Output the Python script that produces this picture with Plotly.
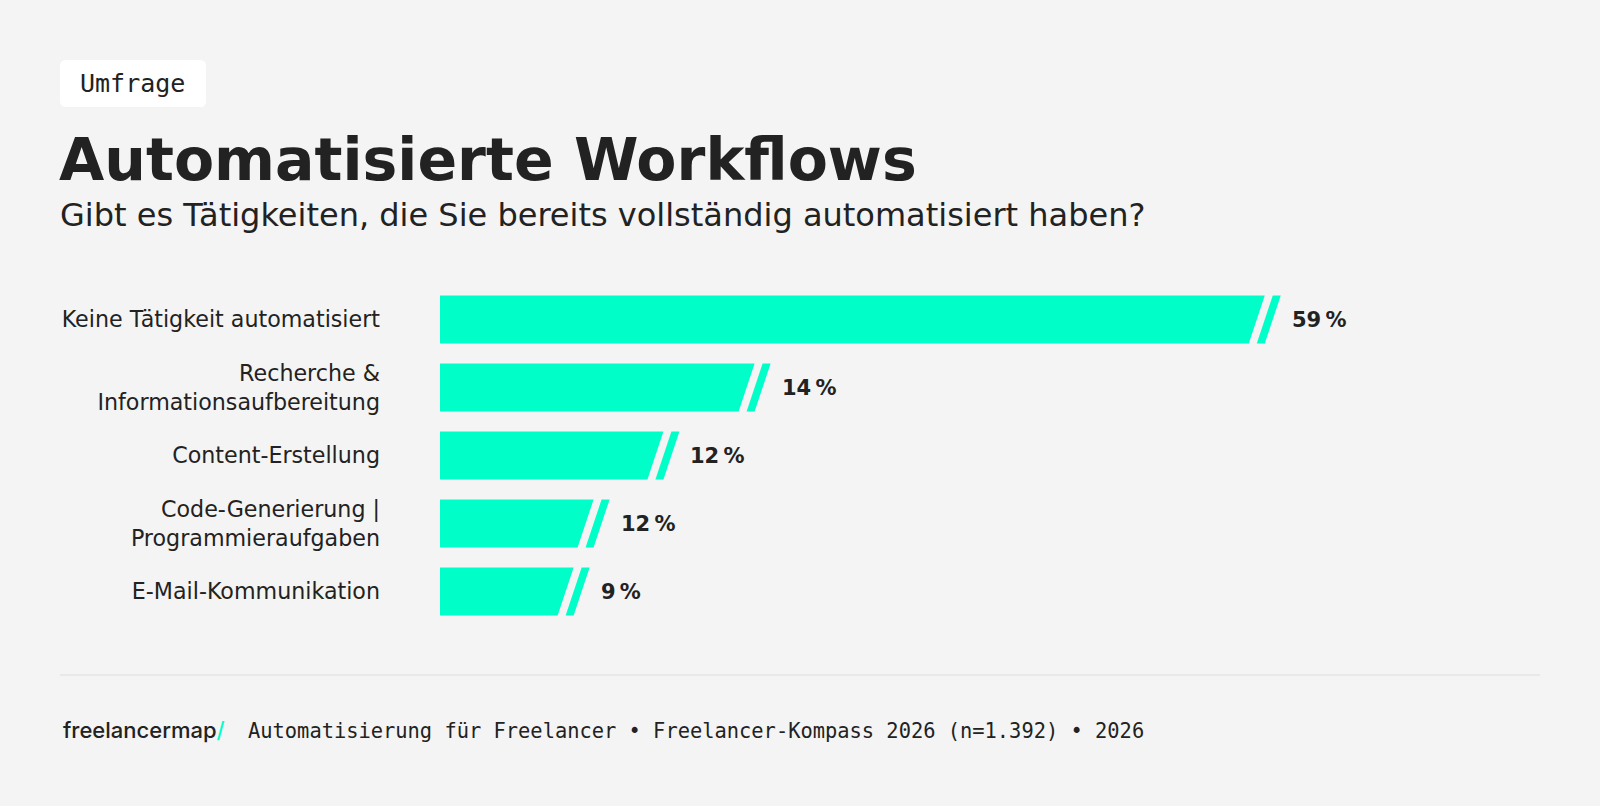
import plotly.graph_objects as go

# ---- data ----
categories = [
    "Keine Tätigkeit automatisiert",
    "Recherche &<br>Informationsaufbereitung",
    "Content-Erstellung",
    "Code-Generierung |<br>Programmieraufgaben",
    "E-Mail-Kommunikation",
]
values = [59, 14, 12, 12, 9]                       # labelled shares (%)
display_lengths = [59.0, 23.2, 16.8, 11.9, 10.5]   # drawn (broken-axis) bar lengths

title = "Automatisierte Workflows"
subtitle = "Gibt es Tätigkeiten, die Sie bereits vollständig automatisiert haben?"
badge = "Umfrage"
footer_logo = "freelancermap"
footer_text = "Automatisierung für Freelancer • Freelancer-Kompass 2026 (n=1.392) • 2026"

# ---- style ----
W, H = 1600, 806
BG = "#f4f4f4"
INK = "#222222"
TEAL = "#00ffc8"
SANS = "DejaVu Sans, sans-serif"
LOGO = "Inter, Roboto, sans-serif"
MONO = "DejaVu Sans Mono, Liberation Mono, monospace"

X0_PX, X1_PX = 440, 1540
K = 14.25                      # px per unit
XMAX = (X1_PX - X0_PX) / K
TOP_PX, PITCH = 285.5, 68.0
n = len(categories)
BOT_PX = TOP_PX + PITCH * n
HALF = 24 / PITCH              # half bar height in y units


def px(dx):
    return dx / K


fig = go.Figure()
for i, (cat, L) in enumerate(zip(categories, display_lengths)):
    yt, yb = i - HALF, i + HALF
    # main bar with slanted end
    fig.add_trace(go.Scatter(
        x=[0, L - px(16), L - px(32), 0, 0],
        y=[yt, yt, yb, yb, yt],
        fill="toself", fillcolor=TEAL, mode="lines", line=dict(width=0),
        hoverinfo="skip", showlegend=False))
    # break slash
    fig.add_trace(go.Scatter(
        x=[L - px(8), L, L - px(16), L - px(24), L - px(8)],
        y=[yt, yt, yb, yb, yt],
        fill="toself", fillcolor=TEAL, mode="lines", line=dict(width=0),
        hoverinfo="skip", showlegend=False))
    fig.add_annotation(
        x=L, y=i, xref="x", yref="y", xshift=9, xanchor="left", yanchor="middle",
        text=f"<b>{values[i]}\u2009%</b>", showarrow=False,
        font=dict(family=SANS, size=21, color=INK))


def pyp(py):
    return 1 - py / H


# badge
r = 6 / W
x0b, x1b = 60 / W, 206 / W
y0b, y1b = pyp(107), pyp(60)
ry = 6 / H
path = (f"M {x0b + r},{y1b} L {x1b - r},{y1b} Q {x1b},{y1b} {x1b},{y1b - ry} "
        f"L {x1b},{y0b + ry} Q {x1b},{y0b} {x1b - r},{y0b} L {x0b + r},{y0b} "
        f"Q {x0b},{y0b} {x0b},{y0b + ry} L {x0b},{y1b - ry} Q {x0b},{y1b} {x0b + r},{y1b} Z")
fig.add_shape(type="path", path=path, xref="paper", yref="paper",
              fillcolor="white", line=dict(width=0), layer="below")

fig.add_annotation(x=132 / W, y=pyp(84), xref="paper", yref="paper", text=badge,
                   showarrow=False, xanchor="center", yanchor="middle",
                   font=dict(family=MONO, size=25, color=INK))
fig.add_annotation(x=57 / W, y=pyp(160), xref="paper", yref="paper", text=f"<b>{title}</b>",
                   showarrow=False, xanchor="left", yanchor="middle",
                   font=dict(family=SANS, size=58.5, color=INK))
fig.add_annotation(x=58 / W, y=pyp(215), xref="paper", yref="paper", text=subtitle,
                   showarrow=False, xanchor="left", yanchor="middle",
                   font=dict(family=SANS, size=32, color=INK))

# footer
fig.add_shape(type="line", xref="paper", yref="paper", x0=60 / W, x1=1540 / W,
              y0=pyp(675), y1=pyp(675), line=dict(color="#e4e4e4", width=1.5))
fig.add_annotation(x=61 / W, y=pyp(730), xref="paper", yref="paper",
                   text=f"{footer_logo}<span style='color:{TEAL}'>/</span>",
                   showarrow=False, xanchor="left", yanchor="middle",
                   font=dict(family=LOGO, size=22, color=INK, weight=500))
fig.add_annotation(x=246 / W, y=pyp(731), xref="paper", yref="paper", text=footer_text,
                   showarrow=False, xanchor="left", yanchor="middle",
                   font=dict(family=MONO, size=20.4, color=INK))

fig.update_layout(
    width=W, height=H, paper_bgcolor=BG, plot_bgcolor=BG,
    margin=dict(l=0, r=0, t=0, b=0), showlegend=False,
    xaxis=dict(domain=[X0_PX / W, X1_PX / W], range=[0, XMAX], visible=False, fixedrange=True),
    yaxis=dict(domain=[(H - BOT_PX) / H, (H - TOP_PX) / H], range=[n - 0.5, -0.5],
               tickvals=list(range(n)), ticktext=categories, showgrid=False, zeroline=False,
               showline=False, ticks="", ticklabelstandoff=59,
               tickfont=dict(family=SANS, size=22.2, color=INK), fixedrange=True),
)

fig.write_html(
    "out.html",
    config={"displayModeBar": False},
    post_script="document.body.style.margin='0';document.body.style.overflow='hidden';"
                "document.body.style.background='" + BG + "';",
)
